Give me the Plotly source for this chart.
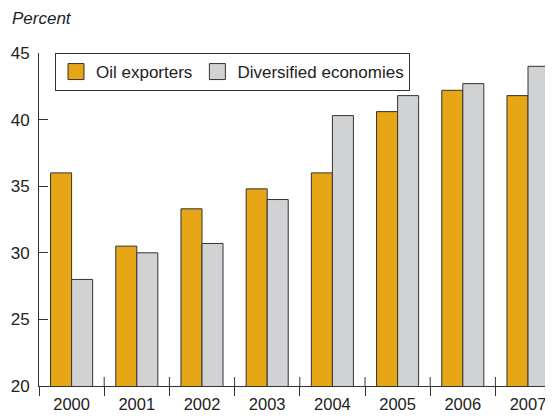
import plotly.graph_objects as go

years = ["2000", "2001", "2002", "2003", "2004", "2005", "2006", "2007"]
oil_exporters = [36.0, 30.5, 33.3, 34.8, 36.0, 40.6, 42.2, 41.8]
diversified = [28.0, 30.0, 30.7, 34.0, 40.3, 41.8, 42.7, 44.0]
y_ticks = [20, 25, 30, 35, 40, 45]

ORANGE = "#E6A615"
GRAY = "#D1D2D4"
EDGE = "#333333"
FONT = "Liberation Sans, Arial, sans-serif"

# page body has an 8px default margin; compensate so the plot lands where it should
OFF = 8
W, H = 553 - OFF, 416 - OFF
ML, MR, MT, MB = 39 - OFF, 0, 53 - OFF, 30
plot_w = W - ML - MR
plot_h = H - MT - MB
cat_px = 65.2
x_max = -0.5 + plot_w / cat_px

fig = go.Figure()
fig.add_trace(go.Bar(x=years, y=oil_exporters, name="Oil exporters",
                     marker=dict(color=ORANGE, line=dict(color=EDGE, width=1)),
                     showlegend=False))
fig.add_trace(go.Bar(x=years, y=diversified, name="Diversified economies",
                     marker=dict(color=GRAY, line=dict(color=EDGE, width=1)),
                     showlegend=False))
# legend entries with larger square swatches
for name, col in [("Oil exporters", ORANGE), ("Diversified economies", GRAY)]:
    fig.add_trace(go.Scatter(x=[None], y=[None], mode="markers", name=name,
                             marker=dict(symbol="square", size=16, color=col,
                                         line=dict(color=EDGE, width=1))))

# inner halves of the category-boundary ticks
shapes = []
for i in range(1, len(years)):
    shapes.append(dict(type="line", xref="x", yref="paper", x0=i - 0.5, x1=i - 0.5,
                       y0=0, y1=9 / plot_h, line=dict(color=EDGE, width=1)))

fig.update_layout(
    width=W, height=H,
    margin=dict(l=ML, r=MR, t=MT, b=MB, autoexpand=False),
    plot_bgcolor="white", paper_bgcolor="white",
    barmode="group", bargap=0.355, bargroupgap=0,
    font=dict(family=FONT, size=17, color="#222222"),
    xaxis=dict(type="category", range=[-0.5, x_max], showline=True, linecolor=EDGE,
               linewidth=1, ticks="outside", tickson="boundaries", ticklen=9,
               tickcolor=EDGE, showgrid=False, tickfont=dict(size=16.5), automargin=False,
               ticklabelstandoff=3),
    yaxis=dict(range=[20, 45], tickvals=y_ticks, showline=True, linecolor=EDGE,
               linewidth=1, ticks="inside", ticklen=9, tickcolor=EDGE,
               showgrid=False, zeroline=False, ticklabelstandoff=5,
               tickfont=dict(size=17), automargin=False),
    legend=dict(orientation="h", x=16 / plot_w, y=1, xanchor="left", yanchor="top",
                bordercolor=EDGE, borderwidth=1, bgcolor="white",
                font=dict(size=17), traceorder="normal"),
    shapes=shapes,
    annotations=[dict(text="<i>Percent</i>", xref="paper", yref="paper",
                      x=(10 - 39) / plot_w, y=1 + (53 - 18) / plot_h,
                      xanchor="left", yanchor="middle", showarrow=False,
                      font=dict(size=17, color="#222222"))],
)

fig.write_html("out.html")
